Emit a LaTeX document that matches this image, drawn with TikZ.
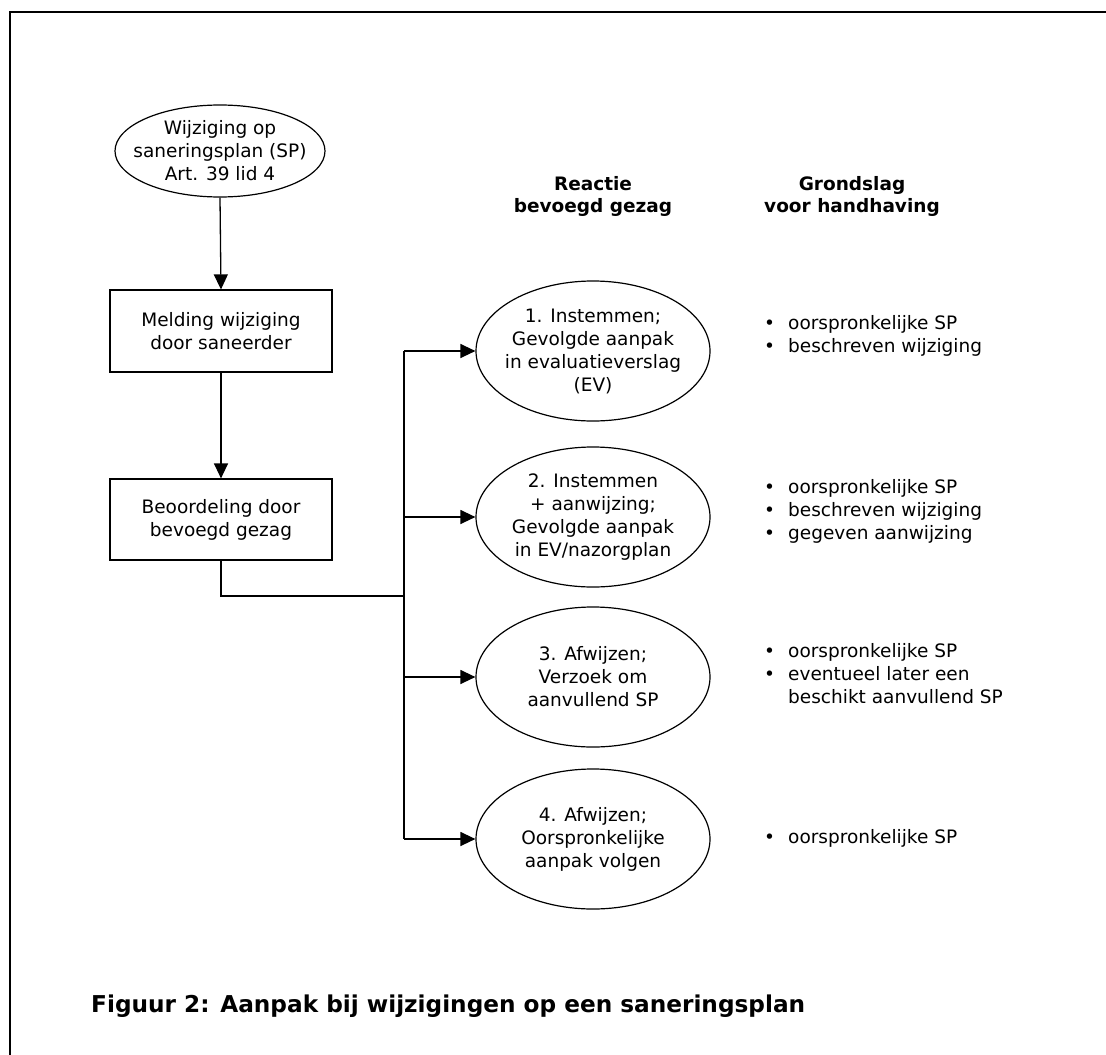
\documentclass[tikz,border=0pt]{standalone}
\usepackage{fontspec}
\setmainfont{DejaVu Sans}
\usetikzlibrary{shapes.geometric,arrows.meta}
\begin{document}
\begin{tikzpicture}[x=1pt,y=-1pt,
  every node/.style={font=\fontsize{18.5}{23}\selectfont},
  oval/.style={draw,ellipse,line width=1.2pt,inner sep=0pt},
  boxnode/.style={draw,rectangle,line width=1.2pt,inner sep=0pt,minimum width=222pt,align=center},
  lbl/.style={align=center,inner sep=0pt},
  conn/.style={line width=1.3pt},
  arr/.style={conn,-{Triangle[length=15pt,width=14pt]}},
  hdr/.style={align=center,inner sep=0pt,font=\fontsize{18.5}{22}\selectfont\bfseries},
  blist/.style={align=left,anchor=north west,inner sep=0pt}
]
\useasboundingbox (0,0) rectangle (1106,1055);
\fill[white] (0,0) rectangle (1106,1055);
\draw[line width=1.6pt] (10,1055) -- (10,12) -- (1106,12);

% left column
\node[oval,minimum width=210pt,minimum height=92pt] (A) at (220,151) {};
\node[lbl] (At) at (A.center) {Wijziging op\\saneringsplan (SP)\\Art. 39 lid 4};
\node[boxnode,minimum height=82pt] (B1) at (221,331) {Melding wijziging\\door saneerder};
\node[boxnode,minimum height=81pt] (B2) at (221,519.5) {Beoordeling door\\bevoegd gezag};

% headers
\node[hdr] (H1) at (593,196) {Reactie\\bevoegd gezag};
\node[hdr] (H2) at (852,196) {Grondslag\\voor handhaving};

% reaction ellipses
\node[oval,minimum width=234pt,minimum height=140pt] (R1) at (593,351) {};
\node[lbl] (R1t) at (R1.center) {1. Instemmen;\\Gevolgde aanpak\\in evaluatieverslag\\(EV)};
\node[oval,minimum width=234pt,minimum height=140pt] (R2) at (593,517) {};
\node[lbl] (R2t) at (R2.center) {2. Instemmen\\+ aanwijzing;\\Gevolgde aanpak\\in EV/nazorgplan};
\node[oval,minimum width=234pt,minimum height=140pt] (R3) at (593,677) {};
\node[lbl] (R3t) at (R3.center) {3. Afwijzen;\\Verzoek om\\aanvullend SP};
\node[oval,minimum width=234pt,minimum height=140pt] (R4) at (593,839) {};
\node[lbl] (R4t) at (R4.center) {4. Afwijzen;\\Oorspronkelijke\\aanpak volgen};

% bullet lists
\node[blist] (L1) at (764,313.4) {\strut\makebox[24pt][l]{•}oorspronkelijke SP\\\makebox[24pt][l]{•}beschreven wijziging};
\node[blist] (L2) at (764,477.4) {\strut\makebox[24pt][l]{•}oorspronkelijke SP\\\makebox[24pt][l]{•}beschreven wijziging\\\makebox[24pt][l]{•}gegeven aanwijzing};
\node[blist] (L3) at (764,641.4) {\strut\makebox[24pt][l]{•}oorspronkelijke SP\\\makebox[24pt][l]{•}eventueel later een\\\makebox[24pt][l]{}beschikt aanvullend SP};
\node[blist] (L4) at (764,827.4) {\strut\makebox[24pt][l]{•}oorspronkelijke SP};

% caption
\node[anchor=west,inner sep=0pt,font=\fontsize{23.2}{27}\selectfont\bfseries] (cap) at (91,1006) {Figuur 2: Aanpak bij wijzigingen op een saneringsplan};

% connectors
\coordinate (J) at (404,596);
\coordinate (T1) at (404,351);
\coordinate (T2) at (404,517);
\coordinate (T3) at (404,677);
\coordinate (T4) at (404,839);
\draw[arr] (A.south) -- (B1.north);
\draw[arr] (B1.south) -- (B2.north);
\draw[conn] (B2.south) |- (J);
\draw[conn] (T1) -- (T4);
\draw[arr] (T1) -- (R1.west);
\draw[arr] (T2) -- (R2.west);
\draw[arr] (T3) -- (R3.west);
\draw[arr] (T4) -- (R4.west);
\end{tikzpicture}
\end{document}
